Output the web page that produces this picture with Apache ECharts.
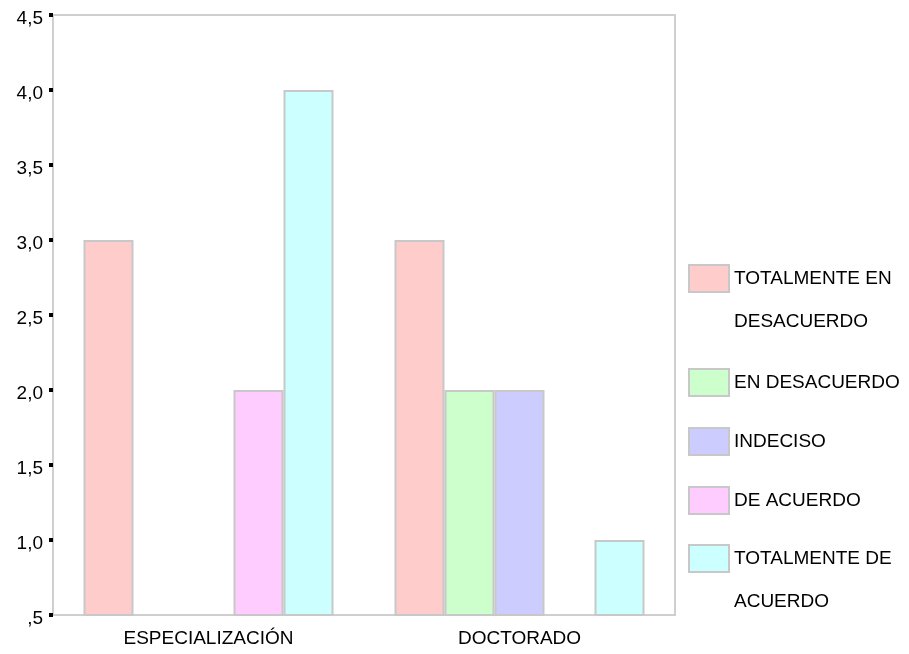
<!DOCTYPE html>
<html lang="es">
  <head>
    <meta charset="UTF-8" />
    <title>Barras agrupadas</title>
    <script src="https://cdnjs.cloudflare.com/ajax/libs/echarts/6.0.0/echarts.min.js"></script>
    <style>
      html, body { margin: 0; padding: 0; background: #fff; }
      #chart { width: 909px; height: 654px; }
    </style>
  </head>
  <body>
    <div id="chart"></div>
    <script type="text/javascript">
      // categorias del eje x
      const categories = ["ESPECIALIZACIÓN", "DOCTORADO"];
      // nombres de las series (leyenda)
      const seriesNames = [
        "TOTALMENTE EN DESACUERDO",
        "EN DESACUERDO",
        "INDECISO",
        "DE ACUERDO",
        "TOTALMENTE DE ACUERDO",
      ];
      // etiquetas de la leyenda, tal como se cortan en la imagen
      const legendLabels = [
        "TOTALMENTE EN\nDESACUERDO",
        "EN DESACUERDO",
        "INDECISO",
        "DE ACUERDO",
        "TOTALMENTE DE\nACUERDO",
      ];
      // valores (null = sin barra)
      const totDesacuerdo = [3, 3];
      const enDesacuerdo = [null, 2];
      const indeciso = [null, 2];
      const deAcuerdo = [2, null];
      const totAcuerdo = [4, 1];
      const seriesData = [totDesacuerdo, enDesacuerdo, indeciso, deAcuerdo, totAcuerdo];
      // eje y
      const yMin = 0.5, yMax = 4.5, yStep = 0.5;

      const colors = ["#FFCCCC", "#CCFFCC", "#CCCCFF", "#FFCCFF", "#CCFFFF"];
      const font = "'Liberation Sans', Arial, sans-serif";
      const legendTops = [214, 368, 427, 486, 494];

      const myChart = echarts.init(document.getElementById("chart"));

      // una leyenda por elemento; en las de dos lineas se antepone una linea vacia
      // para que el cuadro quede a la altura de la primera linea
      const legends = seriesNames.map((name, i) => {
        const twoLines = legendLabels[i].indexOf("\n") >= 0;
        return {
          data: [name],
          left: 688,
          top: legendTops[i],
          padding: 0,
          icon: "rect",
          itemWidth: 40,
          itemHeight: 27,
          selectedMode: false,
          formatter: () => (twoLines ? " \n" + legendLabels[i] : legendLabels[i]),
          textStyle: {
            color: "#000",
            fontSize: 19,
            fontFamily: font,
            lineHeight: twoLines ? 43 : 27,
          },
        };
      });

      const options = {
        animation: false,
        grid: {
          left: 53,
          right: 234,
          top: 15,
          bottom: 39,
          show: true,
          borderColor: "#cfcfcf",
          borderWidth: 2,
        },
        legend: legends,
        xAxis: {
          type: "category",
          data: categories,
          axisLine: { lineStyle: { color: "#cfcfcf", width: 2 } },
          axisTick: {
            alignWithLabel: true,
            length: 4,
            lineStyle: { color: "#000", width: 4 },
          },
          axisLabel: {
            color: "#000",
            fontSize: 19,
            fontFamily: font,
            margin: 14,
          },
        },
        yAxis: {
          type: "value",
          min: yMin,
          max: yMax,
          interval: yStep,
          splitLine: { show: false },
          axisLine: { show: true, lineStyle: { color: "#cfcfcf", width: 2 } },
          axisTick: {
            show: true,
            length: 4,
            lineStyle: { color: "#000", width: 4 },
          },
          axisLabel: {
            color: "#000",
            fontSize: 19,
            fontFamily: font,
            margin: 10,
            formatter: (v) => "{v|" + (v === 0.5 ? ",5" : v.toFixed(1).replace(".", ",")) + "}",
            rich: {
              v: {
                color: "#000",
                fontSize: 19,
                fontFamily: font,
                padding: [7, 0, 0, 0],
              },
            },
          },
        },
        series: seriesNames.map((name, i) => ({
          name: name,
          type: "bar",
          barWidth: 50,
          barGap: "0%",
          itemStyle: {
            color: colors[i],
            borderColor: "#c8c8c8",
            borderWidth: 2,
          },
          data: seriesData[i],
        })),
      };
      myChart.setOption(options);
    </script>
  </body>
</html>
